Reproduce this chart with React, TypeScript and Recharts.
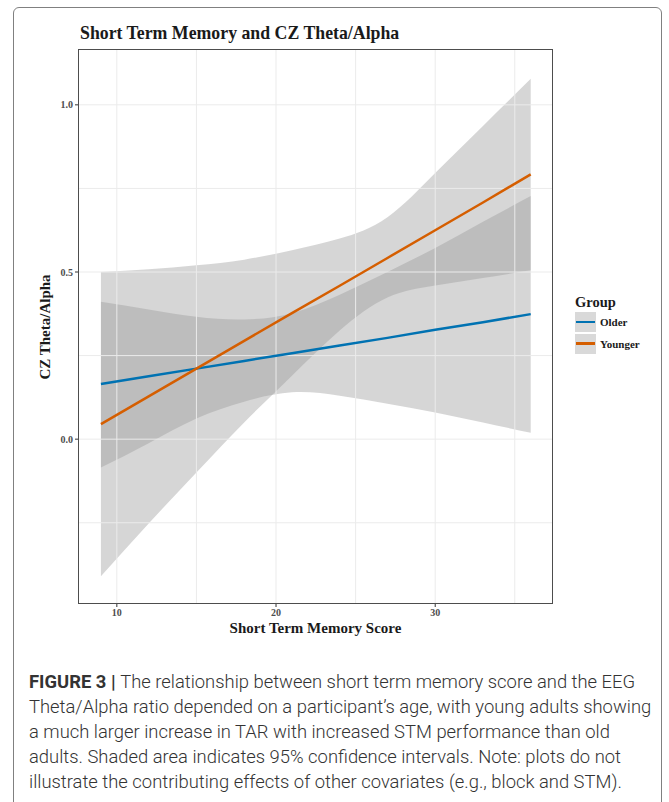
import { ComposedChart, Area, Line, XAxis, YAxis, ReferenceLine } from "recharts";

// STM score positions where the fitted lines / bands were read
const scores = [9, 12, 15, 18, 21, 24, 27, 30, 33, 36];

const olderFit = [0.165, 0.188, 0.211, 0.234, 0.257, 0.28, 0.303, 0.327, 0.35, 0.374];
const olderLow = [-0.085, -0.012, 0.062, 0.112, 0.14, 0.13, 0.106, 0.08, 0.05, 0.019];
const olderHigh = [0.411, 0.388, 0.366, 0.358, 0.377, 0.432, 0.5, 0.572, 0.65, 0.727];

const youngerFit = [0.045, 0.128, 0.211, 0.294, 0.377, 0.459, 0.542, 0.625, 0.708, 0.792];
const youngerLow = [-0.41, -0.252, -0.1, 0.05, 0.19, 0.325, 0.424, 0.46, 0.482, 0.505];
const youngerHigh = [0.5, 0.508, 0.52, 0.537, 0.565, 0.6, 0.664, 0.796, 0.937, 1.078];

const xTicks = [10, 20, 30];
const yTicks = [0, 0.5, 1];
const xMinorGrid = [15, 25, 35];
const yMinorGrid = [-0.25, 0.25, 0.75];

const groups = [
  { name: "Older", color: "#0072B2" },
  { name: "Younger", color: "#D55E00" },
];

const caption = [
  "The relationship between short term memory score and the EEG",
  "Theta/Alpha ratio depended on a participant\u2019s age, with young adults showing",
  "a much larger increase in TAR with increased STM performance than old",
  "adults. Shaded area indicates 95% confidence intervals. Note: plots do not",
  "illustrate the contributing effects of other covariates (e.g., block and STM).",
];

const data = scores.map((x, i) => ({
  x,
  older: olderFit[i],
  olderBand: [olderLow[i], olderHigh[i]],
  younger: youngerFit[i],
  youngerBand: [youngerLow[i], youngerHigh[i]],
}));

const serif = "'Liberation Serif', 'Times New Roman', serif";
const tickStyle = { fontFamily: serif, fontSize: 10, fontWeight: 700, fill: "#4d4d4d" };
const gridColor = "#ebebeb";

export default function App() {
  return (
    <div style={{ position: "absolute", left: 0, top: 0, width: 669, height: 802, overflow: "hidden", background: "#fff" }}>
      <div
        style={{
          position: "absolute",
          left: 13,
          top: 7,
          width: 649,
          height: 830,
          border: "1.5px solid #808080",
          borderRadius: 6,
          boxSizing: "border-box",
        }}
      />
      <div
        style={{
          position: "absolute",
          left: 80,
          top: 23,
          fontFamily: serif,
          fontWeight: 700,
          fontSize: 17.8,
          color: "#1a1a1a",
          whiteSpace: "nowrap",
        }}
      >
        Short Term Memory and CZ Theta/Alpha
      </div>

      <div style={{ position: "absolute", left: 0, top: 0 }}>
        <ComposedChart width={669} height={660} data={data} margin={{ top: 49, right: 116, bottom: 26, left: 48 }}>
          {xMinorGrid.concat(xTicks).map((v) => (
            <ReferenceLine key={"vx" + v} x={v} stroke={gridColor} strokeWidth={1} />
          ))}
          {yMinorGrid.concat(yTicks).map((v) => (
            <ReferenceLine key={"hy" + v} y={v} stroke={gridColor} strokeWidth={1} />
          ))}
          <XAxis
            type="number"
            dataKey="x"
            domain={[7.56, 37.4]}
            allowDataOverflow
            ticks={xTicks}
            height={30}
            tick={tickStyle}
            tickSize={3}
            tickMargin={2}
            tickLine={{ stroke: "#333" }}
            axisLine={false}
          />
          <YAxis
            type="number"
            domain={[-0.493, 1.167]}
            allowDataOverflow
            ticks={yTicks}
            width={30}
            tick={tickStyle}
            tickFormatter={(v: number) => v.toFixed(1)}
            tickSize={3}
            tickMargin={2}
            tickLine={{ stroke: "#333" }}
            axisLine={false}
          />
          <Area
            dataKey="olderBand"
            type="natural"
            stroke="none"
            fill="#999999"
            fillOpacity={0.4}
            isAnimationActive={false}
          />
          <Line
            dataKey="older"
            type="linear"
            stroke={groups[0].color}
            strokeWidth={2.5}
            dot={false}
            isAnimationActive={false}
          />
          <Area
            dataKey="youngerBand"
            type="natural"
            stroke="none"
            fill="#999999"
            fillOpacity={0.4}
            isAnimationActive={false}
          />
          <Line
            dataKey="younger"
            type="linear"
            stroke={groups[1].color}
            strokeWidth={2.5}
            dot={false}
            isAnimationActive={false}
          />
        </ComposedChart>
      </div>

      {/* panel border */}
      <div
        style={{
          position: "absolute",
          left: 78,
          top: 49,
          width: 475,
          height: 555,
          border: "1.5px solid #4d4d4d",
          boxSizing: "border-box",
          pointerEvents: "none",
        }}
      />

      {/* axis titles */}
      <div
        style={{
          position: "absolute",
          left: 78,
          width: 475,
          top: 620,
          textAlign: "center",
          fontFamily: serif,
          fontWeight: 700,
          fontSize: 15,
          color: "#1a1a1a",
        }}
      >
        Short Term Memory Score
      </div>
      <div
        style={{
          position: "absolute",
          left: 45,
          top: 327,
          transform: "translate(-50%, -50%) rotate(-90deg)",
          fontFamily: serif,
          fontWeight: 700,
          fontSize: 15,
          color: "#1a1a1a",
          whiteSpace: "nowrap",
        }}
      >
        CZ Theta/Alpha
      </div>

      {/* legend */}
      <div style={{ position: "absolute", left: 575, top: 293, fontFamily: serif, color: "#1a1a1a" }}>
        <div style={{ fontWeight: 700, fontSize: 14.5, lineHeight: "18px" }}>Group</div>
        {groups.map((g) => (
          <div key={g.name} style={{ display: "flex", alignItems: "center", height: 21, marginTop: 0.5 }}>
            <div
              style={{
                width: 21,
                height: 20,
                background: "#d9d9d9",
                display: "flex",
                alignItems: "center",
                justifyContent: "center",
              }}
            >
              <div style={{ width: 19, height: 2.5, background: g.color }} />
            </div>
            <span style={{ marginLeft: 4, fontWeight: 700, fontSize: 11 }}>{g.name}</span>
          </div>
        ))}
      </div>

      {/* caption */}
      <div
        style={{
          position: "absolute",
          left: 29,
          top: 669,
          fontFamily: "Roboto, 'Liberation Sans', sans-serif",
          fontWeight: 300,
          fontSize: 18.4,
          lineHeight: "25px",
          color: "#333",
          whiteSpace: "nowrap",
        }}
      >
        {caption.map((line, i) => (
          <div key={i}>
            {i === 0 ? <b style={{ fontWeight: 700 }}>FIGURE 3 | </b> : null}
            {line}
          </div>
        ))}
      </div>
    </div>
  );
}
